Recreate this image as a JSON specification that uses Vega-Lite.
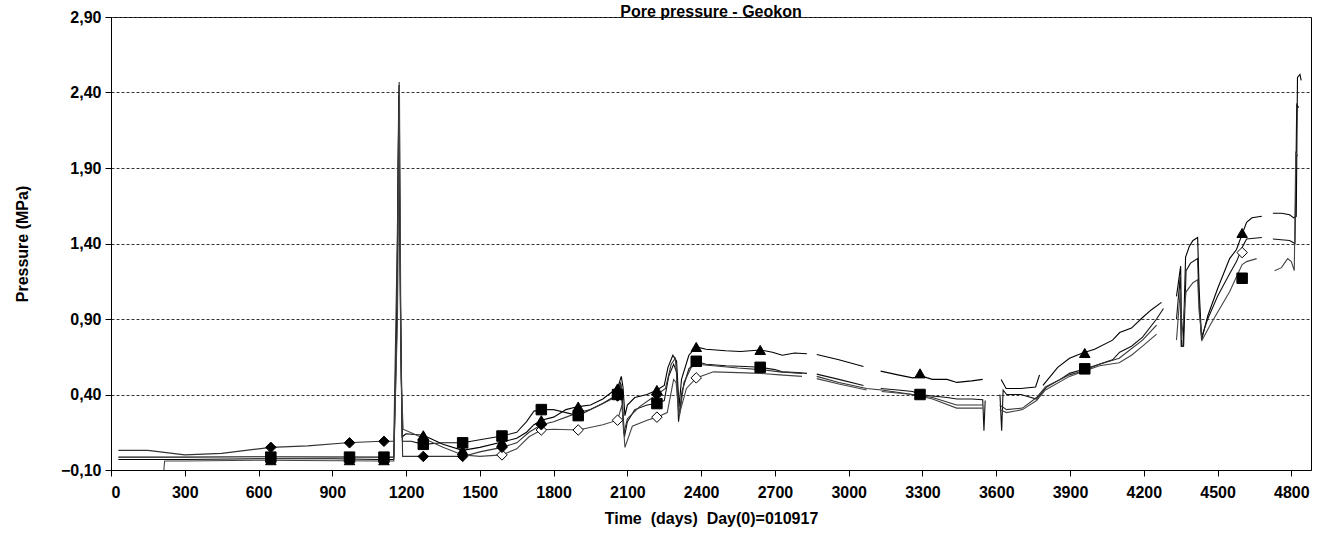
{
  "$schema": "https://vega.github.io/schema/vega-lite/v6.json",
  "width": 1200,
  "height": 453,
  "autosize": {"type": "none"},
  "padding": {"left": 111, "top": 17, "right": 14, "bottom": 71},
  "background": "white",
  "title": {"text": "Pore pressure - Geokon", "font": "Liberation Sans", "fontSize": 16, "fontWeight": "bold", "color": "black", "offset": 3, "frame": "group", "baseline": "bottom", "dy": 30},
  "config": {
    "view": {"stroke": "black", "strokeWidth": 1},
    "axis": {"domainColor": "black", "tickColor": "black", "labelColor": "black", "titleColor": "black", "labelFont": "Liberation Sans", "titleFont": "Liberation Sans", "labelFontWeight": "bold", "titleFontWeight": "bold", "labelFontSize": 16, "titleFontSize": 16, "tickSize": 6}
  },
  "datasets": {
    "lines": [
      {"s":"A","g":0,"d":30,"p":-0.03},{"s":"A","g":0,"d":300,"p":-0.03},{"s":"A","g":0,"d":600,"p":-0.025},{"s":"A","g":0,"d":900,"p":-0.025},{"s":"A","g":0,"d":1100,"p":-0.03},{"s":"A","g":0,"d":1150,"p":-0.03},{"s":"A","g":0,"d":1162,"p":0.8},{"s":"A","g":0,"d":1170,"p":2.38},{"s":"A","g":0,"d":1176,"p":1.2},{"s":"A","g":0,"d":1184,"p":0.12},{"s":"A","g":0,"d":1200,"p":0.14},{"s":"A","g":0,"d":1270,"p":0.13},{"s":"A","g":0,"d":1350,"p":0.07},{"s":"A","g":0,"d":1430,"p":0.03},{"s":"A","g":0,"d":1500,"p":0.05},{"s":"A","g":0,"d":1590,"p":0.085},{"s":"A","g":0,"d":1650,"p":0.11},{"s":"A","g":0,"d":1690,"p":0.15},{"s":"A","g":0,"d":1720,"p":0.2},{"s":"A","g":0,"d":1750,"p":0.23},{"s":"A","g":0,"d":1800,"p":0.25},{"s":"A","g":0,"d":1850,"p":0.3},{"s":"A","g":0,"d":1900,"p":0.32},{"s":"A","g":0,"d":1950,"p":0.33},{"s":"A","g":0,"d":2000,"p":0.37},{"s":"A","g":0,"d":2040,"p":0.42},{"s":"A","g":0,"d":2060,"p":0.44},{"s":"A","g":0,"d":2075,"p":0.52},{"s":"A","g":0,"d":2082,"p":0.45},{"s":"A","g":0,"d":2090,"p":0.26},{"s":"A","g":0,"d":2100,"p":0.33},{"s":"A","g":0,"d":2130,"p":0.38},{"s":"A","g":0,"d":2180,"p":0.4},{"s":"A","g":0,"d":2220,"p":0.43},{"s":"A","g":0,"d":2250,"p":0.46},{"s":"A","g":0,"d":2265,"p":0.58},{"s":"A","g":0,"d":2285,"p":0.66},{"s":"A","g":0,"d":2300,"p":0.62},{"s":"A","g":0,"d":2310,"p":0.32},{"s":"A","g":0,"d":2320,"p":0.5},{"s":"A","g":0,"d":2350,"p":0.66},{"s":"A","g":0,"d":2380,"p":0.715},{"s":"A","g":0,"d":2420,"p":0.7},{"s":"A","g":0,"d":2500,"p":0.69},{"s":"A","g":0,"d":2560,"p":0.685},{"s":"A","g":0,"d":2640,"p":0.695},{"s":"A","g":0,"d":2690,"p":0.68},{"s":"A","g":0,"d":2730,"p":0.66},{"s":"A","g":0,"d":2780,"p":0.675},{"s":"A","g":0,"d":2830,"p":0.67},
      {"s":"A","g":1,"d":2870,"p":0.665},{"s":"A","g":1,"d":2960,"p":0.63},{"s":"A","g":1,"d":3060,"p":0.585},
      {"s":"A","g":2,"d":3130,"p":0.555},{"s":"A","g":2,"d":3200,"p":0.53},{"s":"A","g":2,"d":3260,"p":0.51},{"s":"A","g":2,"d":3300,"p":0.52},{"s":"A","g":2,"d":3340,"p":0.5},{"s":"A","g":2,"d":3400,"p":0.5},{"s":"A","g":2,"d":3440,"p":0.48},{"s":"A","g":2,"d":3500,"p":0.49},{"s":"A","g":2,"d":3545,"p":0.5},
      {"s":"A","g":3,"d":3620,"p":0.5},{"s":"A","g":3,"d":3640,"p":0.44},{"s":"A","g":3,"d":3700,"p":0.44},{"s":"A","g":3,"d":3760,"p":0.45},{"s":"A","g":3,"d":3776,"p":0.53},
      {"s":"A","g":4,"d":3790,"p":0.46},{"s":"A","g":4,"d":3850,"p":0.58},{"s":"A","g":4,"d":3898,"p":0.64},{"s":"A","g":4,"d":3951,"p":0.675},{"s":"A","g":4,"d":4000,"p":0.7},{"s":"A","g":4,"d":4073,"p":0.76},{"s":"A","g":4,"d":4102,"p":0.81},{"s":"A","g":4,"d":4150,"p":0.84},{"s":"A","g":4,"d":4195,"p":0.91},{"s":"A","g":4,"d":4230,"p":0.96},{"s":"A","g":4,"d":4272,"p":1.01},
      {"s":"A","g":5,"d":4333,"p":1.05},{"s":"A","g":5,"d":4350,"p":1.25},{"s":"A","g":5,"d":4354,"p":0.72},{"s":"A","g":5,"d":4360,"p":0.72},{"s":"A","g":5,"d":4370,"p":1.31},{"s":"A","g":5,"d":4385,"p":1.38},{"s":"A","g":5,"d":4400,"p":1.42},{"s":"A","g":5,"d":4419,"p":1.44},{"s":"A","g":5,"d":4425,"p":1.1},{"s":"A","g":5,"d":4435,"p":0.76},{"s":"A","g":5,"d":4460,"p":0.92},{"s":"A","g":5,"d":4500,"p":1.1},{"s":"A","g":5,"d":4549,"p":1.3},{"s":"A","g":5,"d":4577,"p":1.36},{"s":"A","g":5,"d":4602,"p":1.47},{"s":"A","g":5,"d":4618,"p":1.54},{"s":"A","g":5,"d":4640,"p":1.57},{"s":"A","g":5,"d":4680,"p":1.58},
      {"s":"A","g":6,"d":4725,"p":1.6},{"s":"A","g":6,"d":4760,"p":1.6},{"s":"A","g":6,"d":4793,"p":1.59},{"s":"A","g":6,"d":4810,"p":1.57},{"s":"A","g":6,"d":4820,"p":1.58},{"s":"A","g":6,"d":4825,"p":2.5},{"s":"A","g":6,"d":4835,"p":2.52},{"s":"A","g":6,"d":4840,"p":2.48},

      {"s":"B","g":0,"d":30,"p":-0.015},{"s":"B","g":0,"d":300,"p":-0.015},{"s":"B","g":0,"d":600,"p":-0.012},{"s":"B","g":0,"d":1100,"p":-0.015},{"s":"B","g":0,"d":1150,"p":-0.015},{"s":"B","g":0,"d":1163,"p":1.0},{"s":"B","g":0,"d":1171,"p":2.45},{"s":"B","g":0,"d":1177,"p":1.0},{"s":"B","g":0,"d":1185,"p":0.09},{"s":"B","g":0,"d":1220,"p":0.09},{"s":"B","g":0,"d":1270,"p":0.07},{"s":"B","g":0,"d":1350,"p":0.08},{"s":"B","g":0,"d":1430,"p":0.08},{"s":"B","g":0,"d":1500,"p":0.1},{"s":"B","g":0,"d":1590,"p":0.125},{"s":"B","g":0,"d":1650,"p":0.15},{"s":"B","g":0,"d":1690,"p":0.22},{"s":"B","g":0,"d":1720,"p":0.29},{"s":"B","g":0,"d":1750,"p":0.3},{"s":"B","g":0,"d":1800,"p":0.3},{"s":"B","g":0,"d":1850,"p":0.28},{"s":"B","g":0,"d":1900,"p":0.26},{"s":"B","g":0,"d":1950,"p":0.3},{"s":"B","g":0,"d":2000,"p":0.34},{"s":"B","g":0,"d":2040,"p":0.38},{"s":"B","g":0,"d":2060,"p":0.41},{"s":"B","g":0,"d":2072,"p":0.48},{"s":"B","g":0,"d":2080,"p":0.35},{"s":"B","g":0,"d":2088,"p":0.12},{"s":"B","g":0,"d":2100,"p":0.22},{"s":"B","g":0,"d":2130,"p":0.3},{"s":"B","g":0,"d":2180,"p":0.33},{"s":"B","g":0,"d":2220,"p":0.34},{"s":"B","g":0,"d":2250,"p":0.36},{"s":"B","g":0,"d":2268,"p":0.52},{"s":"B","g":0,"d":2288,"p":0.6},{"s":"B","g":0,"d":2300,"p":0.55},{"s":"B","g":0,"d":2308,"p":0.22},{"s":"B","g":0,"d":2322,"p":0.42},{"s":"B","g":0,"d":2350,"p":0.57},{"s":"B","g":0,"d":2380,"p":0.62},{"s":"B","g":0,"d":2420,"p":0.6},{"s":"B","g":0,"d":2500,"p":0.59},{"s":"B","g":0,"d":2580,"p":0.585},{"s":"B","g":0,"d":2640,"p":0.58},{"s":"B","g":0,"d":2700,"p":0.565},{"s":"B","g":0,"d":2730,"p":0.55},{"s":"B","g":0,"d":2790,"p":0.545},{"s":"B","g":0,"d":2830,"p":0.54},
      {"s":"B","g":1,"d":2870,"p":0.535},{"s":"B","g":1,"d":2960,"p":0.5},{"s":"B","g":1,"d":3060,"p":0.46},
      {"s":"B","g":2,"d":3130,"p":0.44},{"s":"B","g":2,"d":3200,"p":0.43},{"s":"B","g":2,"d":3260,"p":0.42},{"s":"B","g":2,"d":3290,"p":0.4},{"s":"B","g":2,"d":3340,"p":0.39},{"s":"B","g":2,"d":3400,"p":0.38},{"s":"B","g":2,"d":3440,"p":0.37},{"s":"B","g":2,"d":3500,"p":0.37},{"s":"B","g":2,"d":3545,"p":0.365},{"s":"B","g":2,"d":3550,"p":0.16},{"s":"B","g":2,"d":3555,"p":0.36},
      {"s":"B","g":3,"d":3615,"p":0.4},{"s":"B","g":3,"d":3622,"p":0.16},{"s":"B","g":3,"d":3628,"p":0.43},{"s":"B","g":3,"d":3642,"p":0.4},{"s":"B","g":3,"d":3700,"p":0.4},{"s":"B","g":3,"d":3764,"p":0.37},{"s":"B","g":3,"d":3805,"p":0.45},{"s":"B","g":3,"d":3860,"p":0.5},{"s":"B","g":3,"d":3898,"p":0.54},{"s":"B","g":3,"d":3951,"p":0.565},{"s":"B","g":3,"d":4000,"p":0.59},{"s":"B","g":3,"d":4073,"p":0.63},{"s":"B","g":3,"d":4102,"p":0.68},{"s":"B","g":3,"d":4150,"p":0.72},{"s":"B","g":3,"d":4195,"p":0.78},{"s":"B","g":3,"d":4252,"p":0.9},{"s":"B","g":3,"d":4280,"p":0.97},
      {"s":"B","g":4,"d":4333,"p":0.9},{"s":"B","g":4,"d":4348,"p":1.18},{"s":"B","g":4,"d":4352,"p":0.72},{"s":"B","g":4,"d":4362,"p":0.72},{"s":"B","g":4,"d":4372,"p":1.22},{"s":"B","g":4,"d":4390,"p":1.27},{"s":"B","g":4,"d":4419,"p":1.3},{"s":"B","g":4,"d":4425,"p":1.0},{"s":"B","g":4,"d":4435,"p":0.78},{"s":"B","g":4,"d":4460,"p":0.9},{"s":"B","g":4,"d":4500,"p":1.05},{"s":"B","g":4,"d":4549,"p":1.2},{"s":"B","g":4,"d":4577,"p":1.28},{"s":"B","g":4,"d":4602,"p":1.38},{"s":"B","g":4,"d":4618,"p":1.43},{"s":"B","g":4,"d":4680,"p":1.44},
      {"s":"B","g":5,"d":4725,"p":1.43},{"s":"B","g":5,"d":4793,"p":1.42},{"s":"B","g":5,"d":4815,"p":1.4},{"s":"B","g":5,"d":4822,"p":2.32},{"s":"B","g":5,"d":4830,"p":2.3},

      {"s":"C","g":0,"d":30,"p":0.03},{"s":"C","g":0,"d":150,"p":0.03},{"s":"C","g":0,"d":300,"p":0.0},{"s":"C","g":0,"d":450,"p":0.01},{"s":"C","g":0,"d":600,"p":0.04},{"s":"C","g":0,"d":650,"p":0.05},{"s":"C","g":0,"d":800,"p":0.06},{"s":"C","g":0,"d":960,"p":0.08},{"s":"C","g":0,"d":1100,"p":0.09},{"s":"C","g":0,"d":1150,"p":0.09},{"s":"C","g":0,"d":1164,"p":1.4},{"s":"C","g":0,"d":1172,"p":2.47},{"s":"C","g":0,"d":1178,"p":0.7},{"s":"C","g":0,"d":1186,"p":-0.01},{"s":"C","g":0,"d":1270,"p":-0.01},{"s":"C","g":0,"d":1340,"p":-0.01},{"s":"C","g":0,"d":1430,"p":-0.01},{"s":"C","g":0,"d":1500,"p":0.02},{"s":"C","g":0,"d":1590,"p":0.05},{"s":"C","g":0,"d":1650,"p":0.08},{"s":"C","g":0,"d":1700,"p":0.15},{"s":"C","g":0,"d":1750,"p":0.2},{"s":"C","g":0,"d":1800,"p":0.22},{"s":"C","g":0,"d":1900,"p":0.28},{"s":"C","g":0,"d":1950,"p":0.3},{"s":"C","g":0,"d":2000,"p":0.34},{"s":"C","g":0,"d":2060,"p":0.39},{"s":"C","g":0,"d":2074,"p":0.47},{"s":"C","g":0,"d":2085,"p":0.14},{"s":"C","g":0,"d":2100,"p":0.24},{"s":"C","g":0,"d":2150,"p":0.32},{"s":"C","g":0,"d":2220,"p":0.4},{"s":"C","g":0,"d":2255,"p":0.44},{"s":"C","g":0,"d":2278,"p":0.6},{"s":"C","g":0,"d":2295,"p":0.64},{"s":"C","g":0,"d":2312,"p":0.26},{"s":"C","g":0,"d":2330,"p":0.48},{"s":"C","g":0,"d":2360,"p":0.58},{"s":"C","g":0,"d":2380,"p":0.6},{"s":"C","g":0,"d":2450,"p":0.59},{"s":"C","g":0,"d":2550,"p":0.575},{"s":"C","g":0,"d":2640,"p":0.565},{"s":"C","g":0,"d":2720,"p":0.55},{"s":"C","g":0,"d":2810,"p":0.54},
      {"s":"C","g":1,"d":2870,"p":0.52},{"s":"C","g":1,"d":2960,"p":0.48},{"s":"C","g":1,"d":3073,"p":0.44},{"s":"C","g":1,"d":3134,"p":0.43},{"s":"C","g":1,"d":3260,"p":0.4},{"s":"C","g":1,"d":3341,"p":0.38},{"s":"C","g":1,"d":3439,"p":0.33},{"s":"C","g":1,"d":3545,"p":0.33},
      {"s":"C","g":2,"d":3614,"p":0.33},{"s":"C","g":2,"d":3642,"p":0.3},{"s":"C","g":2,"d":3707,"p":0.31},{"s":"C","g":2,"d":3764,"p":0.38},{"s":"C","g":2,"d":3800,"p":0.45},{"s":"C","g":2,"d":3898,"p":0.53},{"s":"C","g":2,"d":3951,"p":0.555},{"s":"C","g":2,"d":4020,"p":0.6},{"s":"C","g":2,"d":4100,"p":0.64},{"s":"C","g":2,"d":4195,"p":0.76},{"s":"C","g":2,"d":4252,"p":0.86},

      {"s":"D","g":0,"d":215,"p":-0.1},{"s":"D","g":0,"d":218,"p":-0.04},{"s":"D","g":0,"d":300,"p":-0.04},{"s":"D","g":0,"d":600,"p":-0.035},{"s":"D","g":0,"d":1100,"p":-0.04},{"s":"D","g":0,"d":1150,"p":-0.04},{"s":"D","g":0,"d":1165,"p":0.9},{"s":"D","g":0,"d":1173,"p":2.42},{"s":"D","g":0,"d":1180,"p":0.5},{"s":"D","g":0,"d":1188,"p":0.17},{"s":"D","g":0,"d":1230,"p":0.14},{"s":"D","g":0,"d":1270,"p":0.11},{"s":"D","g":0,"d":1350,"p":0.05},{"s":"D","g":0,"d":1430,"p":0.0},{"s":"D","g":0,"d":1500,"p":-0.01},{"s":"D","g":0,"d":1590,"p":0.0},{"s":"D","g":0,"d":1650,"p":0.04},{"s":"D","g":0,"d":1700,"p":0.12},{"s":"D","g":0,"d":1750,"p":0.165},{"s":"D","g":0,"d":1800,"p":0.17},{"s":"D","g":0,"d":1900,"p":0.165},{"s":"D","g":0,"d":2000,"p":0.2},{"s":"D","g":0,"d":2060,"p":0.23},{"s":"D","g":0,"d":2078,"p":0.33},{"s":"D","g":0,"d":2090,"p":0.05},{"s":"D","g":0,"d":2120,"p":0.19},{"s":"D","g":0,"d":2180,"p":0.23},{"s":"D","g":0,"d":2220,"p":0.25},{"s":"D","g":0,"d":2262,"p":0.28},{"s":"D","g":0,"d":2288,"p":0.5},{"s":"D","g":0,"d":2298,"p":0.48},{"s":"D","g":0,"d":2310,"p":0.26},{"s":"D","g":0,"d":2340,"p":0.44},{"s":"D","g":0,"d":2380,"p":0.51},{"s":"D","g":0,"d":2450,"p":0.55},{"s":"D","g":0,"d":2550,"p":0.545},{"s":"D","g":0,"d":2640,"p":0.54},{"s":"D","g":0,"d":2720,"p":0.53},{"s":"D","g":0,"d":2810,"p":0.52},
      {"s":"D","g":1,"d":2870,"p":0.505},{"s":"D","g":1,"d":2960,"p":0.47},{"s":"D","g":1,"d":3073,"p":0.43},
      {"s":"D","g":2,"d":3134,"p":0.42},{"s":"D","g":2,"d":3260,"p":0.4},{"s":"D","g":2,"d":3341,"p":0.37},{"s":"D","g":2,"d":3439,"p":0.31},{"s":"D","g":2,"d":3545,"p":0.31},
      {"s":"D","g":3,"d":3614,"p":0.3},{"s":"D","g":3,"d":3642,"p":0.28},{"s":"D","g":3,"d":3707,"p":0.3},{"s":"D","g":3,"d":3764,"p":0.36},{"s":"D","g":3,"d":3800,"p":0.43},{"s":"D","g":3,"d":3898,"p":0.52},{"s":"D","g":3,"d":3951,"p":0.55},{"s":"D","g":3,"d":4020,"p":0.59},{"s":"D","g":3,"d":4100,"p":0.61},{"s":"D","g":3,"d":4150,"p":0.66},{"s":"D","g":3,"d":4195,"p":0.72},{"s":"D","g":3,"d":4252,"p":0.8},
      {"s":"D","g":4,"d":4333,"p":0.76},{"s":"D","g":4,"d":4349,"p":1.1},{"s":"D","g":4,"d":4353,"p":0.76},{"s":"D","g":4,"d":4372,"p":1.08},{"s":"D","g":4,"d":4400,"p":1.14},{"s":"D","g":4,"d":4419,"p":1.16},{"s":"D","g":4,"d":4425,"p":0.95},{"s":"D","g":4,"d":4437,"p":0.76},{"s":"D","g":4,"d":4470,"p":0.86},{"s":"D","g":4,"d":4549,"p":1.08},{"s":"D","g":4,"d":4577,"p":1.18},{"s":"D","g":4,"d":4600,"p":1.26},{"s":"D","g":4,"d":4618,"p":1.28},{"s":"D","g":4,"d":4659,"p":1.3},
      {"s":"D","g":5,"d":4732,"p":1.22},{"s":"D","g":5,"d":4760,"p":1.24},{"s":"D","g":5,"d":4785,"p":1.3},{"s":"D","g":5,"d":4800,"p":1.28},{"s":"D","g":5,"d":4812,"p":1.22},{"s":"D","g":5,"d":4818,"p":2.0},{"s":"D","g":5,"d":4826,"p":1.98}
    ],
    "markers": [
      {"s":"D","d":1590,"p":0.0},{"s":"D","d":1750,"p":0.165},{"s":"D","d":1900,"p":0.165},{"s":"D","d":2060,"p":0.23},{"s":"D","d":2220,"p":0.25},{"s":"D","d":2380,"p":0.51},{"s":"D","d":4600,"p":1.34},
      {"s":"A","d":650,"p":-0.035},{"s":"A","d":970,"p":-0.035},{"s":"A","d":1110,"p":-0.035},{"s":"A","d":1270,"p":0.13},{"s":"A","d":1430,"p":0.03},{"s":"A","d":1590,"p":0.085},{"s":"A","d":1750,"p":0.23},{"s":"A","d":1900,"p":0.32},{"s":"A","d":2060,"p":0.44},{"s":"A","d":2220,"p":0.43},{"s":"A","d":2380,"p":0.715},{"s":"A","d":2640,"p":0.695},{"s":"A","d":3290,"p":0.54},{"s":"A","d":3960,"p":0.675},{"s":"A","d":4600,"p":1.47},
      {"s":"C","d":650,"p":0.05},{"s":"C","d":970,"p":0.08},{"s":"C","d":1110,"p":0.09},{"s":"C","d":1270,"p":-0.01},{"s":"C","d":1430,"p":-0.01},{"s":"C","d":1590,"p":0.05},{"s":"C","d":1750,"p":0.2},{"s":"C","d":1900,"p":0.28},{"s":"C","d":2060,"p":0.39},{"s":"C","d":2220,"p":0.4},
      {"s":"B","d":650,"p":-0.015},{"s":"B","d":970,"p":-0.015},{"s":"B","d":1110,"p":-0.015},{"s":"B","d":1270,"p":0.07},{"s":"B","d":1430,"p":0.08},{"s":"B","d":1590,"p":0.125},{"s":"B","d":1750,"p":0.3},{"s":"B","d":1900,"p":0.26},{"s":"B","d":2060,"p":0.4},{"s":"B","d":2220,"p":0.34},{"s":"B","d":2380,"p":0.62},{"s":"B","d":2640,"p":0.58},{"s":"B","d":3290,"p":0.4},{"s":"B","d":3960,"p":0.57},{"s":"B","d":4600,"p":1.17}
    ]
  },
  "encoding": {
    "x": {"field": "d", "type": "quantitative", "scale": {"domain": [0, 4880], "nice": false, "zero": false},
      "axis": {"values": [0,300,600,900,1200,1500,1800,2100,2400,2700,3000,3300,3600,3900,4200,4500,4800], "grid": false, "labelPadding": 8, "title": "Time\u00a0 (days)\u00a0 Day(0)=010917", "titlePadding": 10, "format": "d"}},
    "y": {"field": "p", "type": "quantitative", "scale": {"domain": [-0.1, 2.9], "nice": false, "zero": false},
      "axis": {"values": [-0.1,0.4,0.9,1.4,1.9,2.4,2.9], "grid": true, "gridDash": [3,2], "gridColor": "#333", "gridWidth": 1, "gridOpacity": 1, "labelExpr": "replace(format(datum.value, '.2f'), '.', ',')", "labelPadding": 4, "title": "Pressure (MPa)", "titlePadding": 30}}
  },
  "layer": [
    {
      "data": {"name": "lines"},
      "mark": {"type": "line", "strokeWidth": 1.1, "clip": true, "interpolate": "linear"},
      "encoding": {
        "detail": [{"field": "s"}, {"field": "g"}],
        "color": {"field": "s", "type": "nominal", "legend": null, "scale": {"domain": ["A","B","C","D"], "range": ["#000000","#111111","#333333","#444444"]}}
      }
    },
    {
      "data": {"name": "markers"},
      "mark": {"type": "point", "filled": true, "stroke": "black", "strokeWidth": 1, "size": 110, "opacity": 1},
      "encoding": {
        "shape": {"field": "s", "type": "nominal", "legend": null, "scale": {"domain": ["A","B","C","D"], "range": ["triangle-up","square","diamond","diamond"]}},
        "fill": {"field": "s", "type": "nominal", "legend": null, "scale": {"domain": ["A","B","C","D"], "range": ["black","black","black","white"]}}
      }
    }
  ]
}
